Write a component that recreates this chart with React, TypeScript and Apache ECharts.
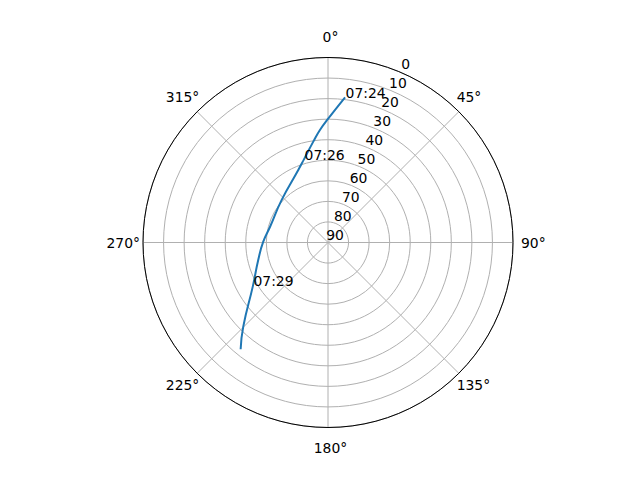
import { useEffect, useRef } from "react";
import * as echarts from "echarts";

// pass track: azimuth (deg, clockwise from north) and elevation (deg)
const azimuth = [6.7, 0, 355.9, 351.7, 344.0, 337.7, 312.6, 285.2, 270.7, 255.9, 240.1, 225.2, 219.3];
const elevation = [18.9, 29.9, 35.1, 40.4, 47.8, 51.9, 59.4, 60.8, 58.5, 55.0, 47.9, 31.9, 22.9];

// time labels along the track
const timeLabels = ["07:24", "07:26", "07:29"];
const timeIndex = [0, 4, 10];

const FONT = "DejaVu Sans";
const GRID = "#b0b0b0";
const CENTER = [328, 242.5];
const R = 185;

export default function App() {
    const chartRef = useRef<HTMLDivElement | null>(null);

    useEffect(() => {
        document.body.style.margin = "0";
        if (!chartRef.current) return;
        const chart = echarts.init(chartRef.current, null, { renderer: "svg" });

        const track = azimuth.map((az, i) => [elevation[i], az]);
        const marks = timeIndex.map((idx, i) => ({
            name: timeLabels[i],
            value: [elevation[idx], azimuth[idx]],
        }));

        const labelStyle = { color: "#000", fontSize: 13.9, fontFamily: FONT };

        const option: echarts.EChartsOption = {
            animation: false,
            backgroundColor: "#fff",
            polar: [
                { center: CENTER, radius: R },
                // shifted copy, only carries the radial tick labels
                { center: [335, 234.6], radius: R },
                // same as first, only carries the 0/90/180/270 labels
                { center: CENTER, radius: R },
            ],
            angleAxis: [
                {
                    polarIndex: 0,
                    type: "value",
                    min: 0,
                    max: 360,
                    interval: 45,
                    startAngle: 90,
                    clockwise: true,
                    axisLine: { lineStyle: { color: "#000", width: 1 } },
                    axisTick: { show: false },
                    axisLabel: {
                        ...labelStyle,
                        margin: -3,
                        padding: [7, 0, 10, 0],
                        formatter: (v: number) => (v % 90 === 0 ? "" : v + "°"),
                    },
                    splitLine: { show: true, lineStyle: { color: GRID, width: 1 } },
                },
                {
                    polarIndex: 1,
                    type: "value",
                    min: 0,
                    max: 360,
                    startAngle: 67.5,
                    clockwise: true,
                    show: false,
                },
                {
                    polarIndex: 2,
                    type: "value",
                    min: 0,
                    max: 360,
                    interval: 45,
                    startAngle: 90,
                    clockwise: true,
                    axisLine: { show: false },
                    axisTick: { show: false },
                    splitLine: { show: false },
                    axisLabel: {
                        ...labelStyle,
                        margin: 0,
                        padding: [13, 3, 14, 8],
                        formatter: (v: number) => (v % 90 === 0 && v < 360 ? v + "°" : ""),
                    },
                },
            ],
            radiusAxis: [
                {
                    polarIndex: 0,
                    type: "value",
                    min: 0,
                    max: 90,
                    interval: 10,
                    inverse: true,
                    axisLine: { show: false },
                    axisTick: { show: false },
                    axisLabel: { show: false },
                    splitLine: { show: true, lineStyle: { color: GRID, width: 1 } },
                },
                {
                    polarIndex: 1,
                    type: "value",
                    min: 0,
                    max: 90,
                    interval: 10,
                    inverse: true,
                    axisLine: { show: false },
                    axisTick: { show: false },
                    splitLine: { show: false },
                    axisLabel: {
                        ...labelStyle,
                        margin: 0,
                        align: "center",
                        verticalAlign: "middle",
                    },
                },
                {
                    polarIndex: 2,
                    type: "value",
                    min: 0,
                    max: 90,
                    inverse: true,
                    show: false,
                },
            ],
            series: [
                {
                    type: "line",
                    coordinateSystem: "polar",
                    polarIndex: 0,
                    data: track,
                    symbol: "none",
                    smooth: 0.5,
                    lineStyle: { color: "#1f77b4", width: 2 },
                    z: 5,
                },
                {
                    type: "scatter",
                    coordinateSystem: "polar",
                    polarIndex: 0,
                    data: marks,
                    symbolSize: 1,
                    itemStyle: { color: "transparent", opacity: 1 },
                    label: {
                        show: true,
                        formatter: "{b}",
                        position: [1, 3],
                        align: "left",
                        verticalAlign: "bottom",
                        textBorderWidth: 0,
                        opacity: 1,
                        ...labelStyle,
                    },
                    z: 6,
                },
            ],
        };

        chart.setOption(option);
        return () => chart.dispose();
    }, []);

    return <div ref={chartRef} style={{ width: "640px", height: "480px" }} />;
}
